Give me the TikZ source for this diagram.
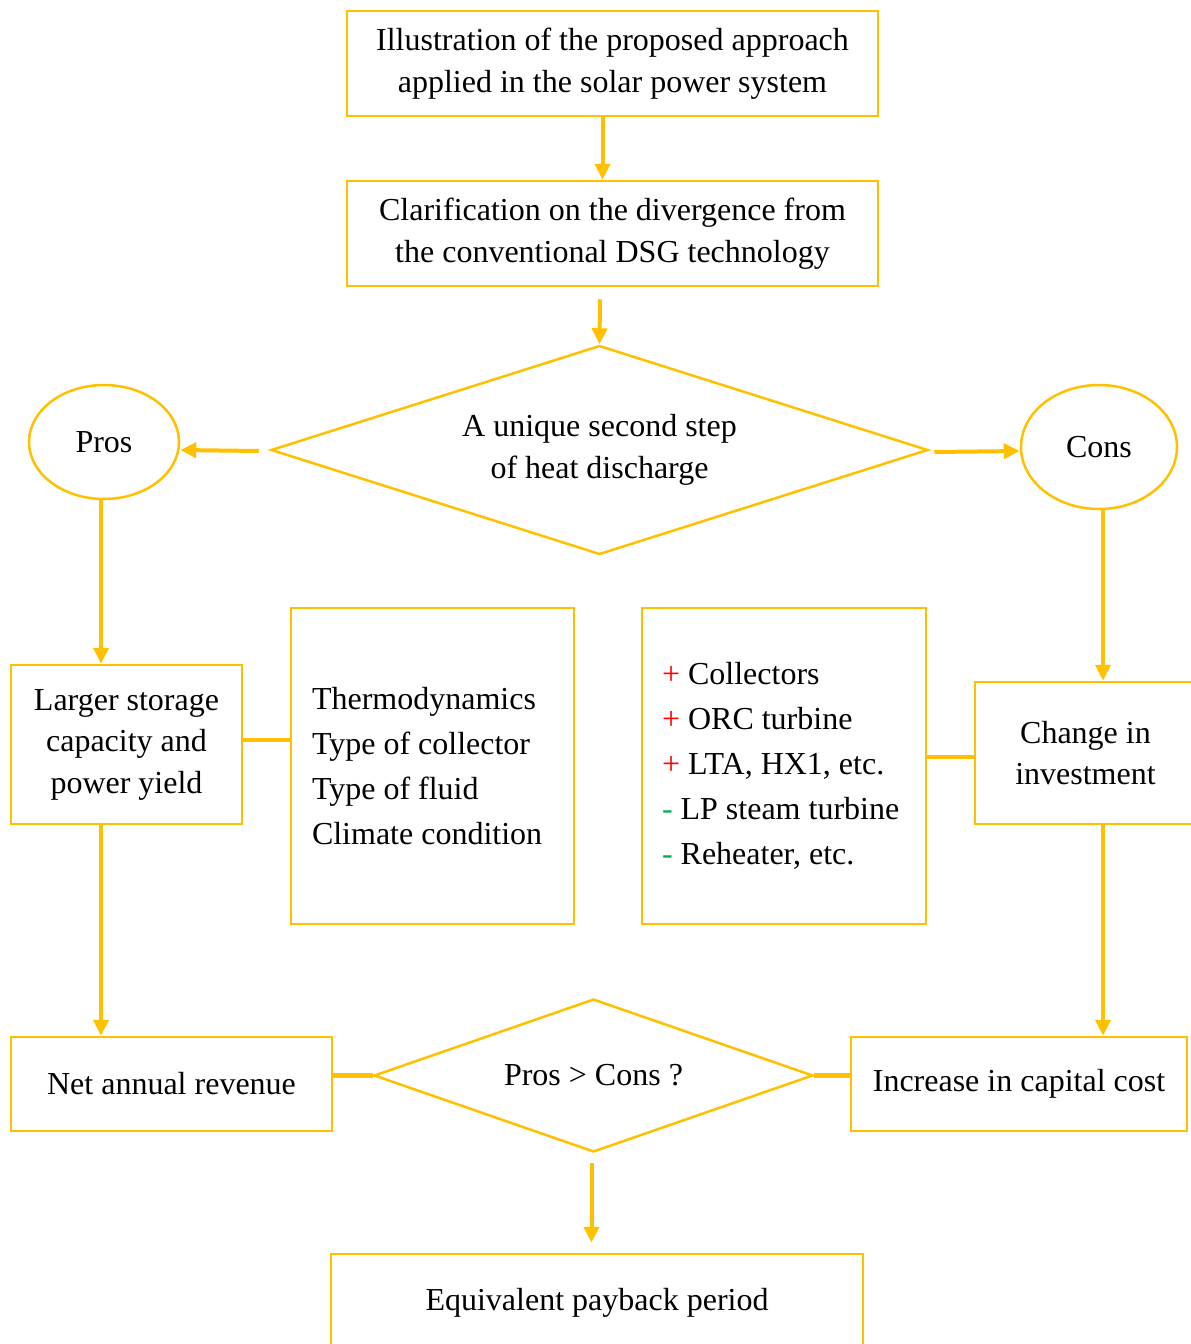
\documentclass[tikz,border=0pt]{standalone}
\usepackage{fontspec}
\setmainfont{Liberation Serif}
\usetikzlibrary{shapes.geometric,arrows.meta}
\definecolor{amber}{HTML}{FFC000}
\definecolor{plusred}{HTML}{FF0000}
\definecolor{minusgreen}{HTML}{00B050}

\begin{document}
\begin{tikzpicture}[x=1pt,y=-1pt]
        \tikzset{box/.style={draw=amber,line width=2.5pt,rectangle,inner sep=0pt,align=center,
                font=\fontsize{32}{41.5}\selectfont},
            listbox/.style={box,align=flush left,inner xsep=21pt,font=\fontsize{32}{45}\selectfont},
            choice/.style={draw=amber,line width=2.5pt,diamond,inner sep=0pt,align=center,
                font=\fontsize{32}{42}\selectfont},
            side/.style={draw=amber,line width=2.5pt,ellipse,inner sep=0pt,font=\fontsize{32}{34}\selectfont},
            arr/.style={draw=amber,line width=4pt,-{Triangle[length=16pt,width=15pt]}},
            link/.style={draw=amber,line width=4.5pt}}
        \useasboundingbox (0,0) rectangle (1191,1344);
        \node[box,minimum width=531pt,minimum height=105pt] (intro) at (612.5,63.5)
            {Illustration of the proposed approach\\applied in the solar power system};
        \node[box,minimum width=531pt,minimum height=105pt] (clar) at (612.5,233.5)
            {Clarification on the divergence from\\the conventional DSG technology};
        \node[choice,aspect=3.14,minimum width=657pt,minimum height=209pt] (step) at (599.5,450)
            {A unique second step\\of heat discharge};
        \node[side,minimum width=150pt,minimum height=114pt] (pros) at (104,442) {Pros};
        \node[side,minimum width=156pt,minimum height=124pt] (cons) at (1099,447) {Cons};
        \node[box,minimum width=231pt,minimum height=159pt] (larger) at (126.5,744.5)
            {Larger storage\\capacity and\\power yield};
        \node[listbox,text width=241pt,minimum height=316pt] (factors) at (432.5,766)
            {Thermodynamics\\Type of collector\\Type of fluid\\Climate condition};
        \node[listbox,inner xsep=20pt,text width=244pt,minimum height=316pt] (items) at (784,766)
            {\textcolor{plusred}{+} Collectors\\
             \textcolor{plusred}{+} ORC turbine\\
             \textcolor{plusred}{+} LTA, HX1, etc.\\
             \textcolor{minusgreen}{-} LP steam turbine\\
             \textcolor{minusgreen}{-} Reheater, etc.};
        \node[box,minimum width=221pt,minimum height=142pt] (change) at (1085.5,753)
            {Change in\\investment};
        \node[box,minimum width=321pt,minimum height=94pt] (revenue) at (171.5,1084)
            {Net annual revenue};
        \node[choice,aspect=2.87,minimum width=439pt,minimum height=153pt] (compare) at (593.5,1075.5)
            {Pros \textgreater{} Cons ?};
        \node[box,minimum width=336pt,minimum height=94pt] (capital) at (1019,1084)
            {Increase in capital cost};
        \node[box,minimum width=532pt,minimum height=98pt] (payback) at (597,1303)
            {Equivalent payback period};

        \draw[arr] ([xshift=-10pt]intro.south) -- ([xshift=-10pt]clar.north);
        \draw[arr] ([xshift=-12.5pt,yshift=-12pt]clar.south) -- (step.north);
        \draw[arr] ([xshift=-11pt,yshift=-1pt]step.west) -- ([yshift=-8pt]pros.east);
        \draw[arr] ([xshift=5pt,yshift=-2pt]step.east) -- ([yshift=-4pt]cons.west);
        \draw[arr] ([xshift=-3pt]pros.south) -- ([xshift=-3pt]pros.south |- larger.north);
        \draw[arr] ([xshift=4pt]cons.south) -- ([xshift=4pt]cons.south |- change.north);
        \draw[arr] ([xshift=-25.5pt]larger.south) -- ([xshift=-25.5pt]larger.south |- revenue.north);
        \draw[arr] ([xshift=17.5pt]change.south) -- ([xshift=17.5pt]change.south |- capital.north);
        \draw[arr] ([xshift=-2pt,yshift=-10pt]compare.south) -- ([xshift=-2pt,yshift=10pt]compare.south |- payback.north);
        \draw[link] ([yshift=4.5pt]larger.east) -- ([yshift=4.5pt]larger.east -| factors.west);
        \draw[link] ([yshift=-4pt]change.west -| items.east) -- ([yshift=-4pt]change.west);
        \draw[link] (compare.west -| revenue.east) -- (compare.west);
        \draw[link] (compare.east) -- (compare.east -| capital.west);
\end{tikzpicture}
\end{document}
